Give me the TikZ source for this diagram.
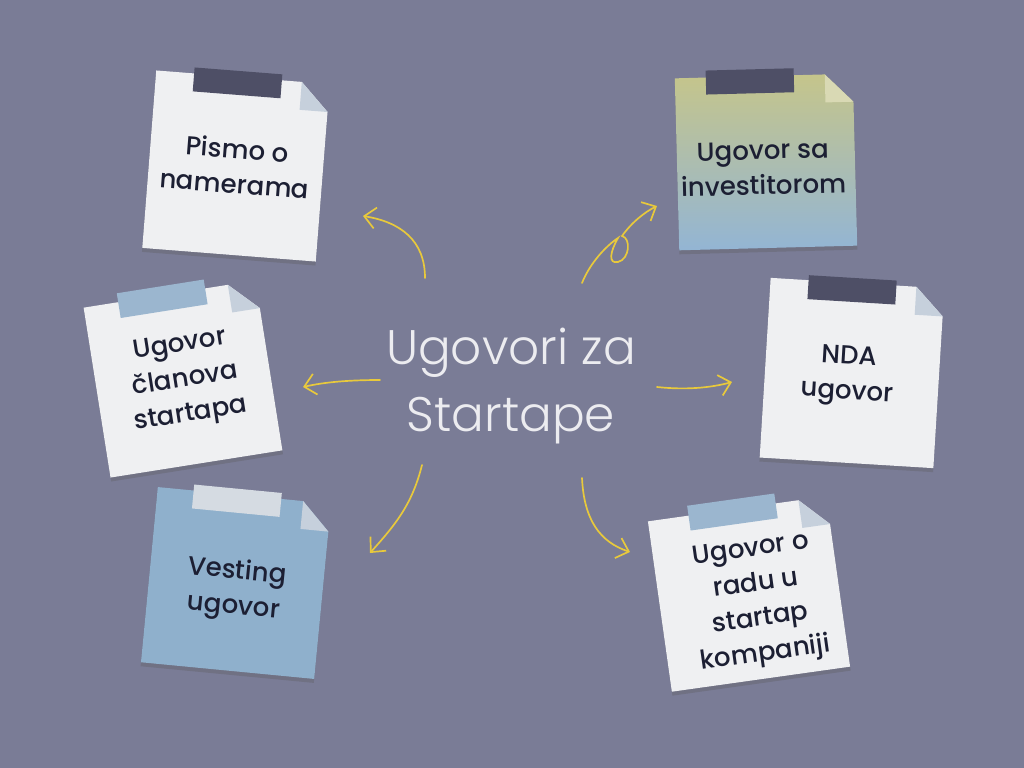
\documentclass[tikz,border=0pt]{standalone}
\usepackage{fontspec}
\usepackage{tikz}
\usetikzlibrary{arrows.meta}
\newfontfamily\titlefont{Poppins}[UprightFont=* Light]
\newfontfamily\notefont{Poppins}[UprightFont=* Medium]
\definecolor{bgcolor}{HTML}{7A7C96}
\definecolor{notewhite}{HTML}{EFF0F2}
\definecolor{noteblue}{HTML}{8FB0CC}
\definecolor{shadowgray}{HTML}{707183}
\definecolor{foldblue}{HTML}{C6D0DC}
\definecolor{foldyellow}{HTML}{D9D9B4}
\definecolor{tapedark}{HTML}{4E4F66}
\definecolor{tapeblue}{HTML}{9BB6CF}
\definecolor{tapelight}{HTML}{D5DBE2}
\definecolor{inktext}{HTML}{1C1F33}
\definecolor{titlegray}{HTML}{ECECF0}
\definecolor{arrowyellow}{HTML}{E8C93C}
\definecolor{gradtop}{HTML}{C5C58B}
\definecolor{gradbottom}{HTML}{93B5D4}

\begin{document}
\begin{tikzpicture}[x=0.025cm, y=-0.025cm]
    % Define styles
    \tikzstyle{noteshadow} = [fill=shadowgray]
    \tikzstyle{paper} = [fill=notewhite]
    \tikzstyle{fold} = [fill=foldblue]
    \tikzstyle{notelabel} = [text=inktext, font=\notefont\fontsize{18.5}{25}\selectfont, align=center]
    \tikzstyle{title} = [text=titlegray, font=\titlefont\fontsize{34.5}{48}\selectfont, align=center]
    \tikzstyle{arrow} = [draw=arrowyellow, line width=1.2pt, line cap=round, -{Straight Barb[length=8pt,width=15pt]}]

    % Background
    \fill[bgcolor] (0,0) rectangle (1024,768);
    \useasboundingbox (0,0) rectangle (1024,768);

    % Notes
    \begin{scope}[shift={(236,166)}, rotate=-4.5]
        \fill[noteshadow] (-87,-84) -- (59,-84) -- (87,-56) -- (87,93) -- (-87,93) -- cycle;
        \fill[paper] (-87,-89) -- (59,-89) -- (87,-61) -- (87,89) -- (-87,89) -- cycle;
        \fill[fold] (59,-89) -- (87,-61) -- (59,-61) -- cycle;
        \fill[tapedark] (-49,-95) rectangle (39,-71);
        \node[notelabel, rotate=-4.5] (pismo) at (0,0) {Pismo o\\namerama};
    \end{scope}

    \begin{scope}[shift={(766,162)}, rotate=1.5]
        \fill[noteshadow] (-89,-81) -- (61,-81) -- (89,-53) -- (89,90) -- (-89,90) -- cycle;
        \shade[top color=gradtop, bottom color=gradbottom] (-89,-86) -- (61,-86) -- (89,-58) -- (89,86) -- (-89,86) -- cycle;
        \fill[foldyellow] (61,-86) -- (89,-58) -- (61,-58) -- cycle;
        \fill[tapedark] (-58,-93) rectangle (30,-69);
        \node[notelabel, rotate=1.5] (investitor) at (-3,6) {Ugovor sa\\investitorom};
    \end{scope}

    \begin{scope}[shift={(852,373)}, rotate=-3.5]
        \fill[noteshadow] (-87,-85) -- (59,-85) -- (87,-57) -- (87,94) -- (-87,94) -- cycle;
        \fill[paper] (-87,-90) -- (59,-90) -- (87,-62) -- (87,90) -- (-87,90) -- cycle;
        \fill[fold] (59,-90) -- (87,-62) -- (59,-62) -- cycle;
        \fill[tapedark] (-49,-95) rectangle (39,-71);
        \node[notelabel, rotate=-3.5] (nda) at (-4,3) {NDA\\ugovor};
    \end{scope}

    \begin{scope}[shift={(749,594)}, rotate=8]
        \fill[noteshadow] (-90,-81) -- (62,-81) -- (90,-53) -- (90,90) -- (-90,90) -- cycle;
        \fill[paper] (-90,-86) -- (62,-86) -- (90,-58) -- (90,86) -- (-90,86) -- cycle;
        \fill[fold] (62,-86) -- (90,-58) -- (62,-58) -- cycle;
        \fill[tapeblue] (-49,-96) rectangle (39,-71);
        \node[notelabel, rotate=8] (radu) at (8,10) {Ugovor o\\radu u\\startap\\kompaniji};
    \end{scope}

    \begin{scope}[shift={(236,583)}, rotate=-5.5]
        \fill[noteshadow] (-87,-83) -- (59,-83) -- (87,-55) -- (87,92) -- (-87,92) -- cycle;
        \fill[noteblue] (-87,-88) -- (59,-88) -- (87,-60) -- (87,88) -- (-87,88) -- cycle;
        \fill[fold] (59,-88) -- (87,-60) -- (59,-60) -- cycle;
        \fill[tapelight] (-51,-94) rectangle (37,-70);
        \node[notelabel, rotate=-5.5] (vesting) at (0,7) {Vesting\\ugovor};
    \end{scope}

    \begin{scope}[shift={(183,379)}, rotate=9]
        \fill[noteshadow] (-87,-81) -- (59,-81) -- (87,-53) -- (87,90) -- (-87,90) -- cycle;
        \fill[paper] (-87,-86) -- (59,-86) -- (87,-58) -- (87,86) -- (-87,86) -- cycle;
        \fill[fold] (59,-86) -- (87,-58) -- (59,-58) -- cycle;
        \fill[tapeblue] (-52,-95) rectangle (36,-70);
        \node[notelabel, rotate=9] (clanova) at (2,2) {Ugovor\\članova\\startapa};
    \end{scope}

    % Title
    \node[title] (title) at (511,386) {Ugovori za\\Startape};

    % Arrow ends
    \coordinate (a1s) at (425,278);
    \coordinate (a1e) at (363,216);
    \coordinate (a2s) at (380,380);
    \coordinate (a2e) at (303,387);
    \coordinate (a3s) at (422,465);
    \coordinate (a3e) at (370,553);
    \coordinate (a4s) at (657,387);
    \coordinate (a4e) at (732,382);
    \coordinate (a5s) at (582,478);
    \coordinate (a5e) at (630,552);
    \coordinate (a6s) at (582,283);
    \coordinate (a6e) at (657,206);

    % Arrows
    \draw[arrow] (a1s) .. controls (425,240) and (400,222) .. (a1e);
    \draw[arrow] (a2s) .. controls (350,380) and (325,382) .. (a2e);
    \draw[arrow] (a3s) .. controls (412,505) and (395,525) .. (a3e);
    \draw[arrow] (a4s) .. controls (685,390) and (710,388) .. (a4e);
    \draw[arrow] (a5s) .. controls (584,520) and (600,542) .. (a5e);
    \draw[arrow] (a6s) .. controls (590,263) and (606,246) .. (618,238)
        .. controls (610,252) and (608,264) .. (618,262)
        .. controls (630,259) and (631,238) .. (622,236)
        .. controls (632,222) and (645,212) .. (a6e);
\end{tikzpicture}
\end{document}
